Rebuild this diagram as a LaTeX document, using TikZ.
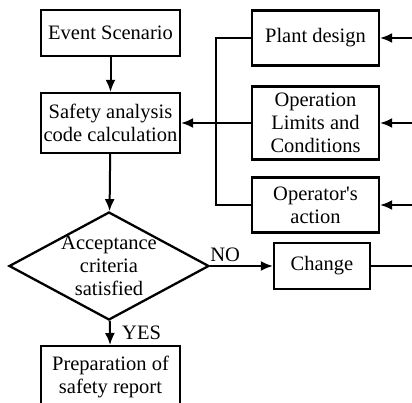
\documentclass[tikz,border=0pt]{standalone}
\usepackage{fontspec}
\setmainfont{Liberation Serif}
\usetikzlibrary{arrows.meta,shapes.geometric}

\begin{document}
\begin{tikzpicture}[x=1pt,y=-1pt,
  every node/.style={font=\fontsize{20.5}{23}\selectfont},
  blk/.style={draw,line width=2.3pt,align=center,inner sep=0pt},
  dec/.style={draw,diamond,line width=2.3pt,align=center,inner sep=-4pt,aspect=1.9},
  arr/.style={line width=2pt,-{Latex[length=12pt,width=10pt]}},
  ln/.style={line width=2pt}]
\useasboundingbox (0,0) rectangle (412,402);
\clip (0,0) rectangle (412,402);

\node[blk,minimum width=139pt,minimum height=46pt] (event) at (110.5,33) {Event Scenario};
\node[blk,minimum width=139pt,minimum height=60pt] (safety) at (110.5,123) {Safety analysis\\code calculation};
\node[dec,minimum width=200pt,minimum height=108pt] (accept) at (109,266) {Acceptance\\criteria\\satisfied};
\node[blk,minimum width=139pt,minimum height=62pt,anchor=north] (report) at (110.5,345) {Preparation of\\safety report};

\node[blk,minimum width=127pt,minimum height=55pt] (plant) at (315.5,38) {Plant design};
\node[blk,minimum width=127pt,minimum height=73pt] (olc) at (315.5,123) {Operation\\Limits and\\Conditions};
\node[blk,minimum width=127pt,minimum height=55pt] (opact) at (315.5,205) {Operator\textquotesingle s\\action};
\node[blk,minimum width=96pt,minimum height=46pt] (change) at (322,266) {Change};

\draw[arr] (event) -- (safety);
\draw[arr] (safety) -- (accept);
\draw[arr] (accept) -- node[right,xshift=8pt] {YES} (report);
\draw[arr] (accept.east) -- node[pos=0.24,above] {NO} (change);

\coordinate (bustop) at (216,38);
\coordinate (busbot) at (216,205);
\draw[ln] (plant) -- (bustop) -- (busbot) -- (opact);
\draw[arr] (olc) -- (safety);

\coordinate (pin) at (415,38);
\coordinate (oin) at (415,123);
\coordinate (ain) at (415,205);
\coordinate (cout) at (415,266);
\draw[arr] (pin) -- (plant);
\draw[arr] (oin) -- (olc);
\draw[arr] (ain) -- (opact);
\draw[ln] (change) -- (cout);
\end{tikzpicture}
\end{document}
